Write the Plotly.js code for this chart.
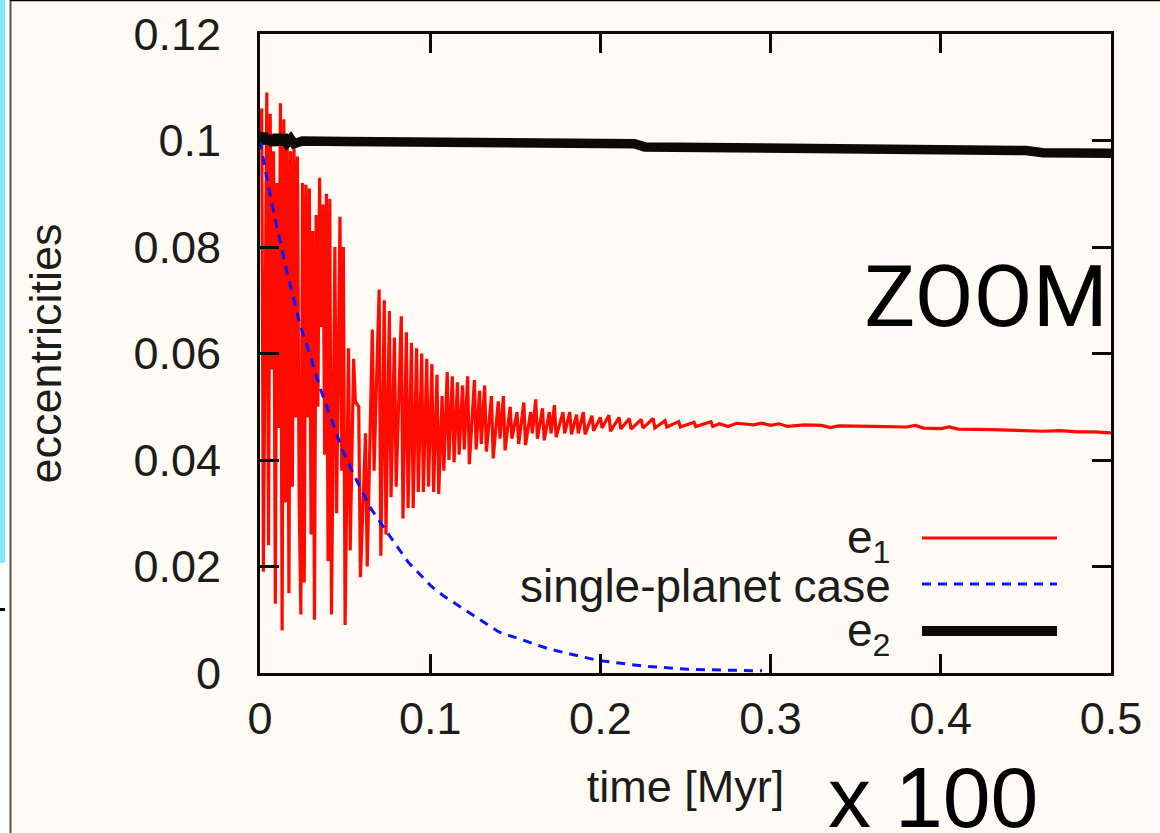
<!DOCTYPE html>
<html>
<head>
<meta charset="utf-8">
<script src="https://cdn.plot.ly/plotly-3.0.1.min.js"></script>
<style>
html,body{margin:0;padding:0;background:#fffbf4;}
#chart{width:1160px;height:833px;}
</style>
</head>
<body>
<div id="chart"></div>
<script>
// e1: inner planet eccentricity (dense oscillation, read as alternating highs/lows)
const timeE1 = [0.000,0.001,0.002,0.004,0.005,0.006,0.007,0.008,0.009,0.010,0.011,0.012,0.013,0.014,0.015,0.016,0.017,0.018,0.019,0.020,0.021,0.022,0.023,0.024,0.025,0.026,0.027,0.028,0.029,0.030,0.031,0.032,0.033,0.034,0.035,0.036,0.037,0.038,0.039,0.040,0.041,0.042,0.044,0.045,0.047,0.048,0.049,0.050,0.052,0.053,0.055,0.056,0.058,0.059,0.062,0.063,0.066,0.067,0.070,0.071,0.073,0.074,0.076,0.077,0.079,0.080,0.083,0.084,0.086,0.087,0.089,0.090,0.092,0.093,0.095,0.096,0.098,0.099,0.101,0.102,0.104,0.105,0.107,0.108,0.110,0.111,0.113,0.114,0.116,0.117,0.119,0.120,0.122,0.123,0.126,0.127,0.129,0.130,0.132,0.133,0.136,0.137,0.140,0.141,0.143,0.144,0.147,0.148,0.151,0.152,0.155,0.156,0.159,0.160,0.162,0.163,0.166,0.167,0.170,0.171,0.173,0.174,0.178,0.179,0.182,0.183,0.186,0.187,0.190,0.191,0.195,0.196,0.200,0.201,0.205,0.206,0.211,0.212,0.217,0.218,0.224,0.225,0.231,0.232,0.238,0.239,0.246,0.247,0.255,0.256,0.265,0.266,0.270,0.275,0.280,0.290,0.295,0.300,0.305,0.310,0.320,0.330,0.335,0.340,0.360,0.380,0.385,0.390,0.400,0.405,0.410,0.420,0.430,0.440,0.450,0.460,0.470,0.480,0.490,0.500];
const e1 = [0.100,0.106,0.019,0.109,0.024,0.105,0.057,0.098,0.013,0.092,0.046,0.107,0.008,0.104,0.032,0.0995,0.015,0.098,0.035,0.0985,0.048,0.097,0.033,0.011,0.092,0.017,0.0917,0.048,0.091,0.026,0.083,0.010,0.086,0.050,0.093,0.065,0.088,0.041,0.090,0.021,0.089,0.011,0.080,0.030,0.0857,0.038,0.080,0.009,0.061,0.023,0.059,0.051,0.050,0.018,0.045,0.020,0.0645,0.038,0.072,0.022,0.070,0.026,0.068,0.033,0.063,0.035,0.067,0.029,0.064,0.031,0.062,0.031,0.061,0.034,0.060,0.034,0.059,0.035,0.058,0.034,0.056,0.0336,0.052,0.038,0.0565,0.040,0.0557,0.0396,0.0546,0.041,0.054,0.042,0.0557,0.0392,0.055,0.042,0.053,0.043,0.054,0.0416,0.052,0.0403,0.051,0.044,0.052,0.0418,0.050,0.044,0.049,0.043,0.0508,0.0428,0.049,0.045,0.0514,0.044,0.0497,0.0437,0.049,0.045,0.0503,0.0443,0.049,0.045,0.049,0.0448,0.0485,0.045,0.049,0.0448,0.0483,0.0455,0.048,0.046,0.0484,0.0454,0.048,0.0458,0.0478,0.0458,0.0476,0.046,0.0478,0.046,0.0474,0.0462,0.0472,0.0462,0.0471,0.0463,0.0472,0.0463,0.0468,0.0463,0.0469,0.0466,0.0469,0.0465,0.0468,0.0463,0.0466,0.0465,0.0461,0.0464,0.0463,0.0462,0.0465,0.0460,0.0459,0.0462,0.0458,0.0458,0.0457,0.0456,0.0455,0.0454,0.0455,0.0453,0.0453,0.0451];

// single-planet case
const timeSingle = [0,0.001,0.004,0.0076,0.0117,0.0164,0.0187,0.0234,0.0292,0.0351,0.0415,0.0485,0.0561,0.0649,0.0754,0.0871,0.1006,0.1082,0.1404,0.17,0.198,0.225,0.2515,0.275,0.295];
const eSingle = [0.1,0.0981,0.0929,0.0872,0.0812,0.0745,0.0717,0.0655,0.0600,0.0537,0.0480,0.0418,0.0366,0.0310,0.0261,0.0208,0.0163,0.0144,0.0077,0.0045,0.0024,0.0013,0.0007,0.0005,0.0004];

// e2: outer planet eccentricity
const timeE2 = [0,0.002,0.004,0.006,0.008,0.010,0.012,0.014,0.016,0.018,0.020,0.025,0.05,0.1,0.15,0.17,0.22,0.226,0.3,0.34,0.345,0.4,0.45,0.46,0.5];
const e2 = [0.1,0.1012,0.0995,0.1008,0.0992,0.1010,0.0993,0.1009,0.0996,0.1003,0.0994,0.0999,0.0998,0.0998,0.0997,0.0995,0.0994,0.0988,0.0987,0.0986,0.0982,0.0982,0.0981,0.0977,0.0976];

const yTicks = [0,0.02,0.04,0.06,0.08,0.1,0.12];
const xTicks = [0,0.1,0.2,0.3,0.4,0.5];
const legendNames = ['e<sub>1</sub>','single-planet case','e<sub>2</sub>'];

const W=1160,H=833,L=260,R=49,T=34,B=160;
const pw=W-L-R, ph=H-T-B;
const px = x => (x-L)/pw;
const py = y => (H-B-y)/ph;

const BG='#fffbf4', INK='#0c0a04', TXT='#1c1c1c';
const FONT='Liberation Sans, Arial, sans-serif';

const traces = [
  {x: timeE1, y: e1, mode:'lines', line:{color:'#ff0a00', width:3.2}, name:'e1', hoverinfo:'skip'},
  {x: timeSingle, y: eSingle, mode:'lines', line:{color:'#0a14ff', width:3, dash:'9px,7px'}, name:'single-planet case', hoverinfo:'skip'},
  {x: timeE2, y: e2, mode:'lines', line:{color:INK, width:9.5}, name:'e2', hoverinfo:'skip'}
];

const legY = [538, 584, 631];
const legStyles = [
  {color:'#ff0a00', width:3},
  {color:'#0a14ff', width:3, dash:'9px,7px'},
  {color:INK, width:10}
];

const shapes = [
  {type:'rect', xref:'paper', yref:'paper', x0:px(-2), x1:px(10), y0:py(835), y1:py(-2), fillcolor:'#ffffff', line:{width:0}, layer:'below'},
  {type:'rect', xref:'paper', yref:'paper', x0:px(-2), x1:px(5), y0:py(563), y1:py(-2), fillcolor:'#82e8f8', line:{width:0}},
  {type:'line', xref:'paper', yref:'paper', x0:px(10.5), x1:px(10.5), y0:py(835), y1:py(0), line:{color:'#555555', width:2}},
  {type:'line', xref:'paper', yref:'paper', x0:px(10), x1:px(1162), y0:py(0.6), y1:py(0.6), line:{color:'#000000', width:1.5}},
  {type:'line', xref:'paper', yref:'paper', x0:px(0), x1:px(5), y0:py(609.5), y1:py(609.5), line:{color:'#000000', width:3}}
];
legY.forEach((yy,i)=>{
  shapes.push({type:'line', xref:'paper', yref:'paper', x0:px(922), x1:px(1057), y0:py(yy), y1:py(yy), line:legStyles[i]});
});

const annotations = legendNames.map((t,i)=>({
  text:t, xref:'paper', yref:'paper', x:px(893), y:py(legY[i]+2), xanchor:'right', yanchor:'middle',
  showarrow:false, font:{family:FONT, size:46, color:TXT}
}));
annotations.push({text:'ZOOM', xref:'paper', yref:'paper', x:px(1110), y:py(296), xanchor:'right', yanchor:'middle',
  showarrow:false, font:{family:'Roboto, Liberation Sans, sans-serif', size:86, color:'#000000'}});
annotations.push({text:'x 100', xref:'paper', yref:'paper', x:px(826), y:py(797), xanchor:'left', yanchor:'middle',
  showarrow:false, font:{family:FONT, size:86, color:'#000000'}});

const layout = {
  width:W, height:H,
  margin:{l:L, r:R, t:T, b:B, pad:0},
  paper_bgcolor:BG, plot_bgcolor:BG,
  showlegend:false,
  font:{family:FONT, color:TXT},
  xaxis:{
    range:[0,0.5], tickvals:xTicks, ticktext:xTicks.map(String),
    ticks:'inside', ticklen:19, tickwidth:3, tickcolor:INK,
    showline:true, linewidth:3, linecolor:INK, mirror:'ticks',
    showgrid:false, zeroline:false,
    tickfont:{family:FONT, size:45, color:TXT},
    ticklabelstandoff:4,
    title:{text:'time [Myr]', font:{family:FONT, size:45, color:TXT}, standoff:28},
    automargin:false
  },
  yaxis:{
    range:[0,0.12], tickvals:yTicks, ticktext:yTicks.map(String),
    ticks:'inside', ticklen:19, tickwidth:3, tickcolor:INK,
    showline:true, linewidth:3, linecolor:INK, mirror:'ticks',
    showgrid:false, zeroline:false,
    tickfont:{family:FONT, size:45, color:TXT},
    ticklabelstandoff:27,
    title:{text:'eccentricities', font:{family:FONT, size:45, color:TXT}, standoff:58},
    automargin:false
  },
  shapes:shapes,
  annotations:annotations
};

Plotly.newPlot('chart', traces, layout, {displayModeBar:false, staticPlot:true});
</script>
</body>
</html>
